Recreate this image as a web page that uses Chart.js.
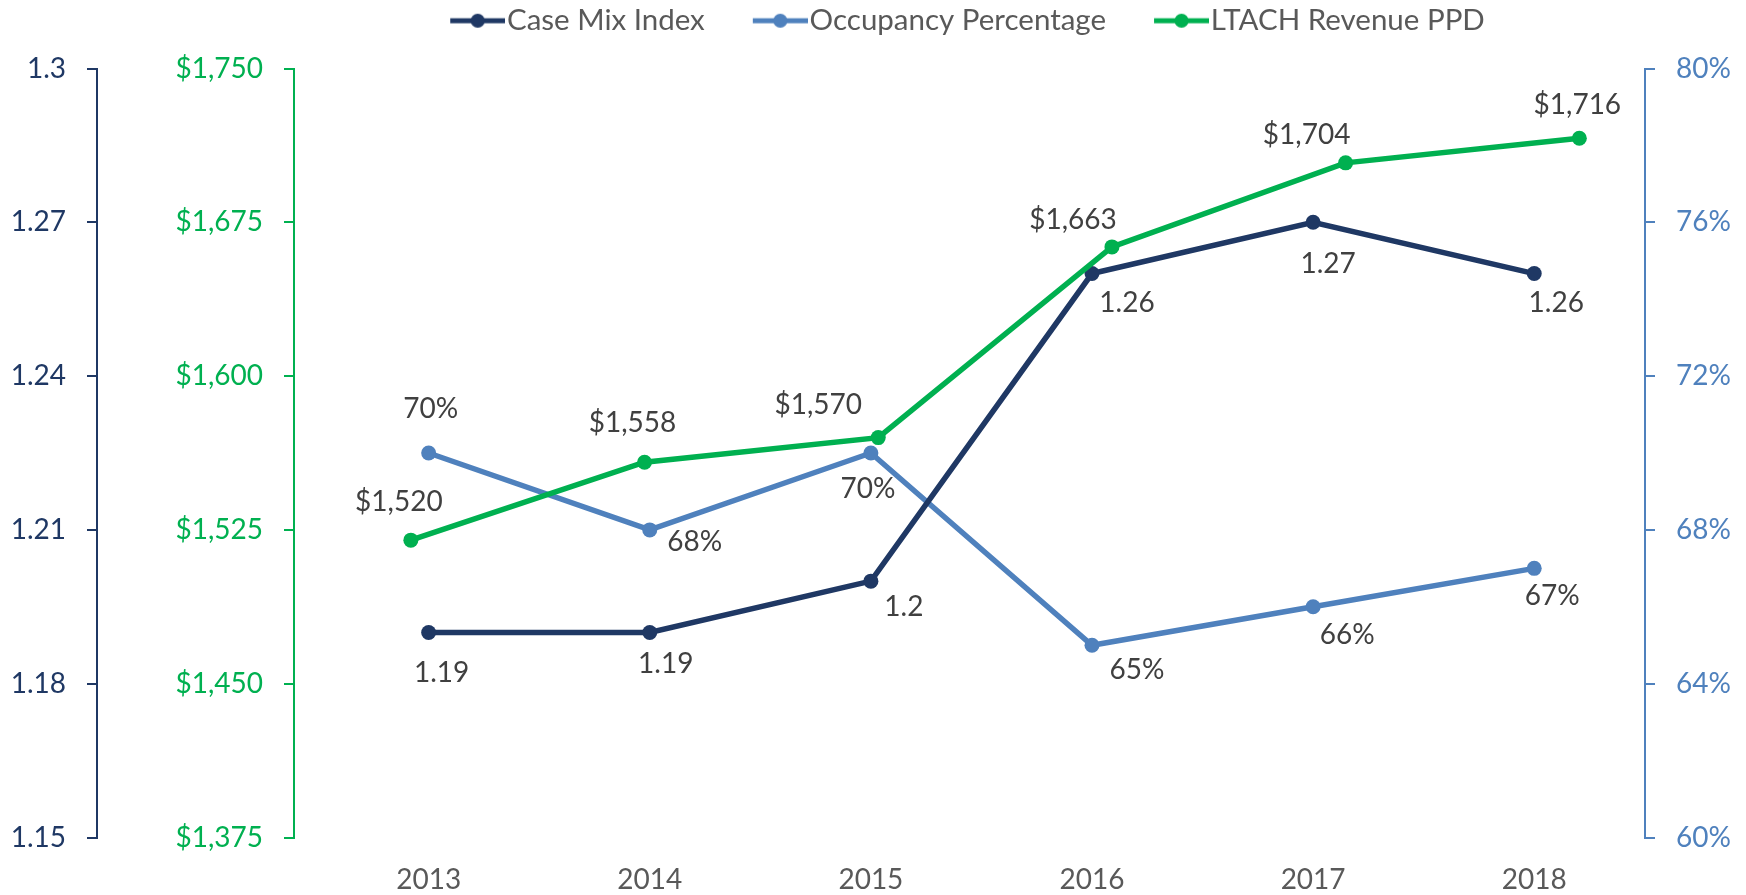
<!DOCTYPE html>
<html>
<head>
<meta charset="utf-8">
<script src="https://cdn.jsdelivr.net/npm/chart.js@4/dist/chart.umd.min.js"></script>
<style>
  html, body { margin: 0; padding: 0; background: #ffffff; }
  #wrap { width: 1746px; height: 895px; }
</style>
</head>
<body>
<div id="wrap"><canvas id="c" width="1746" height="895"></canvas></div>
<script>
// ---- data ----
const years = [2013, 2014, 2015, 2016, 2017, 2018];
const caseMixIndex = [1.19, 1.19, 1.2, 1.26, 1.27, 1.26];
const occupancyPct = [70, 68, 70, 65, 66, 67];
const revenuePPD = [1520, 1558, 1570, 1663, 1704, 1716];
const cmiTicks = [1.15, 1.18, 1.21, 1.24, 1.27, 1.3];
const revenueTicks = [1375, 1450, 1525, 1600, 1675, 1750];
const occupancyTicks = [60, 64, 68, 72, 76, 80];
const seriesNames = ['Case Mix Index', 'Occupancy Percentage', 'LTACH Revenue PPD'];

// ---- styling ----
const FONT = "Lato, 'Open Sans', sans-serif";
const NAVY = '#1F3864', BLUE = '#4F81BD', GREEN = '#00B050';
const LABEL_GREY = '#404040', AXIS_GREY = '#595959';
const LEGEND_FONT = 29.5;
// data-label offsets (px) from each point, per series
const labelOffsets = [
  [[13, 41], [16, 32], [33, 26], [35, 29], [15, 42], [22, 29]],
  [[2, -44], [45, 12], [-3, 36], [45, 25], [34, 28], [18, 28]],
  [[-12, -38], [-12, -39], [-60, -33], [-39, -27], [-39, -28], [-2, -33]]
];
const labelFormats = [
  v => String(v),
  v => v + '%',
  v => '$' + v.toLocaleString('en-US')
];

function toPoints(xs, ys) { return xs.map((x, i) => ({ x: x, y: ys[i] })); }

const LEG_BOX = 84;
function legendIcon(color) {
  const half = LEGEND_FONT / 2;
  const c = document.createElement('canvas');
  c.width = Math.round(LEG_BOX + 2 * (half - 2)); c.height = 18;
  const g = c.getContext('2d');
  const e = c.width, s = e - 55;
  g.strokeStyle = color; g.lineWidth = 5; g.lineCap = 'butt';
  g.beginPath(); g.moveTo(s, 9); g.lineTo(e, 9); g.stroke();
  g.fillStyle = color;
  g.beginPath(); g.arc((s + e) / 2, 9, 7, 0, Math.PI * 2); g.fill();
  return c;
}

const pointLabels = {
  id: 'pointLabels',
  afterDatasetsDraw(chart) {
    const ctx = chart.ctx;
    ctx.save();
    ctx.font = '28px ' + FONT;
    ctx.fillStyle = LABEL_GREY;
    ctx.textAlign = 'center';
    ctx.textBaseline = 'middle';
    chart.data.datasets.forEach((ds, di) => {
      const meta = chart.getDatasetMeta(di);
      meta.data.forEach((el, i) => {
        const off = labelOffsets[di][i];
        ctx.fillText(labelFormats[di](ds.data[i].y), el.x + off[0], el.y + off[1]);
      });
    });
    ctx.restore();
  }
};

const legendShift = {
  id: 'legendShift',
  afterLayout(chart) {
    const lg = chart.legend;
    if (lg) {
      lg.left -= 23; lg.right -= 23;
      const h = lg.bottom - lg.top;
      lg.top = 0; lg.bottom = h;
    }
  }
};

function lineDS(label, data, color, xAxis, yAxis, order) {
  return {
    label: label, data: data, xAxisID: xAxis, yAxisID: yAxis, order: order,
    borderColor: color, backgroundColor: color, borderWidth: 5.5,
    pointRadius: 7.5, pointHoverRadius: 7.5, pointBorderWidth: 0,
    pointBackgroundColor: color, tension: 0, fill: false
  };
}

function yAxis(pos, weight, color, ticks, fmt, width, extraTop) {
  return {
    type: 'linear', position: pos, weight: weight,
    min: ticks[0], max: ticks[ticks.length - 1],
    afterBuildTicks: s => { s.ticks = ticks.map(v => ({ value: v })); },
    afterFit: s => { s.width = width; if (extraTop) s.paddingTop = extraTop; },
    grid: { display: true, drawOnChartArea: false, drawTicks: true, tickLength: 10, color: color, lineWidth: 2 },
    border: { display: true, color: color, width: 2 },
    ticks: { color: color, padding: 21, font: { family: FONT, size: 28 }, callback: fmt }
  };
}

new Chart(document.getElementById('c'), {
  type: 'line',
  data: {
    datasets: [
      lineDS(seriesNames[0], toPoints(years, caseMixIndex), NAVY, 'x', 'yCmi', 1),
      lineDS(seriesNames[1], toPoints(years, occupancyPct), BLUE, 'x', 'yOcc', 2),
      lineDS(seriesNames[2], toPoints(years, revenuePPD), GREEN, 'x2', 'yRev', 0)
    ]
  },
  options: {
    responsive: false,
    animation: false,
    devicePixelRatio: 1,
    events: [],
    layout: { padding: 0 },
    plugins: {
      tooltip: { enabled: false },
      legend: {
        position: 'top', fullSize: false, align: 'center',
        labels: {
          usePointStyle: true, pointStyleWidth: LEG_BOX, padding: 6,
          color: AXIS_GREY, font: { family: FONT, size: LEGEND_FONT },
          generateLabels: chart => chart.data.datasets.map((ds, i) => ({
            text: ds.label, pointStyle: legendIcon(ds.borderColor),
            fillStyle: ds.borderColor, strokeStyle: ds.borderColor, lineWidth: 0,
            hidden: false, datasetIndex: i, fontColor: AXIS_GREY
          }))
        }
      }
    },
    scales: {
      x: {
        type: 'linear', position: 'bottom', min: 2012.391, max: 2018.501,
        afterBuildTicks: s => { s.ticks = years.map(v => ({ value: v })); },
        afterFit: s => { s.height = 57.5; },
        grid: { display: false, drawTicks: false },
        border: { display: false },
        ticks: { color: AXIS_GREY, padding: 26, font: { family: FONT, size: 28 }, callback: v => String(v), maxRotation: 0 }
      },
      x2: { type: 'linear', display: false, min: 2012.5, max: 2018.281 },
      yCmi: yAxis('left', 2, NAVY, cmiTicks, v => String(+(+v).toFixed(2)), 97, 68.5),
      yRev: yAxis('left', 1, GREEN, revenueTicks, v => '$' + Number(v).toLocaleString('en-US'), 197, 0),
      yOcc: yAxis('right', 0, BLUE, occupancyTicks, v => v + '%', 101, 0)
    }
  },
  plugins: [pointLabels, legendShift]
});
</script>
</body>
</html>
